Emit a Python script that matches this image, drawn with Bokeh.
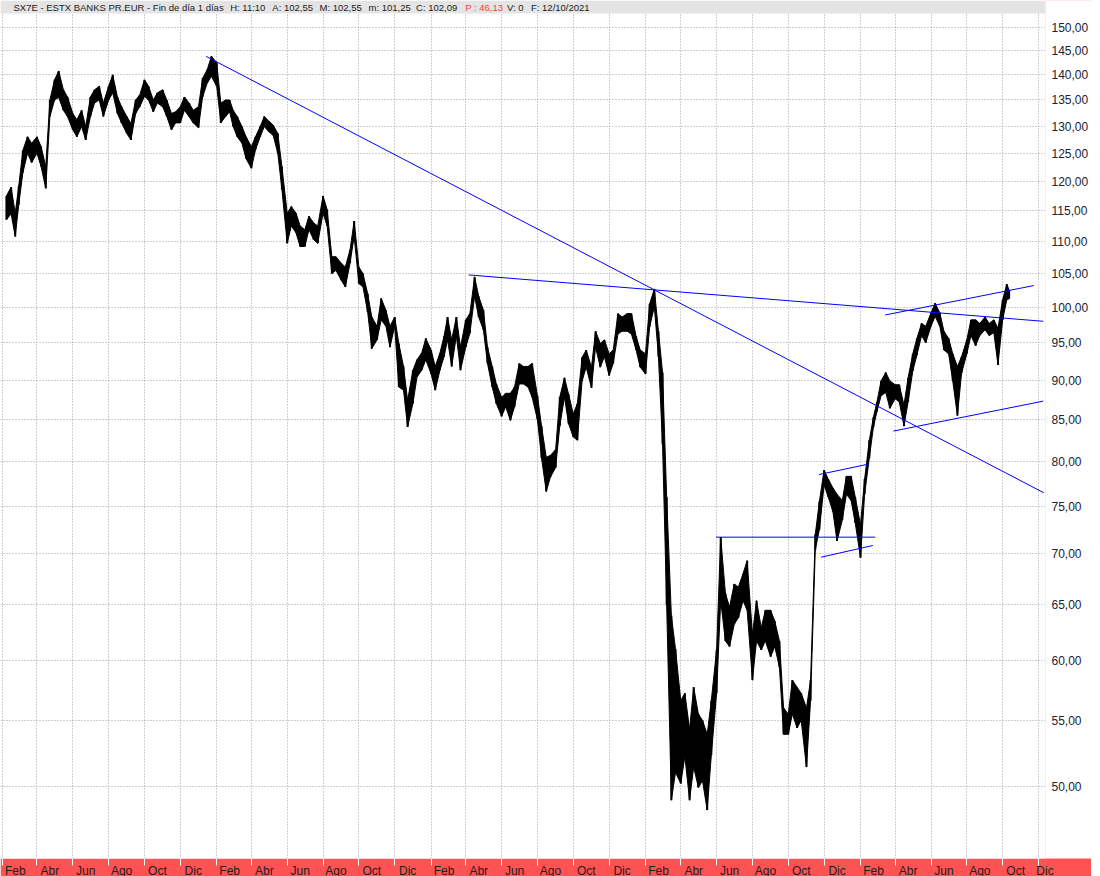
import numpy as np
import pandas as pd
from bokeh.plotting import figure
from bokeh.models import Range1d, FixedTicker, BoxAnnotation, Label, ColumnDataSource
from bokeh.embed import file_html
from bokeh.resources import INLINE

# ---------------- data ----------------
dates_2017 = [
 "2017-02-08","2017-02-16","2017-02-23",
 "2017-03-01","2017-03-08","2017-03-16","2017-03-23",
 "2017-04-01","2017-04-08","2017-04-16","2017-04-23",
 "2017-05-01","2017-05-08","2017-05-16","2017-05-23",
 "2017-06-01","2017-06-08","2017-06-16","2017-06-23",
 "2017-07-01","2017-07-08","2017-07-16","2017-07-23",
 "2017-08-01","2017-08-08","2017-08-16","2017-08-23",
 "2017-09-01","2017-09-08","2017-09-16","2017-09-23",
 "2017-10-01","2017-10-08","2017-10-16","2017-10-23",
 "2017-11-01","2017-11-08","2017-11-16","2017-11-23",
 "2017-12-01","2017-12-08","2017-12-16","2017-12-23"]
high_2017 = [117.5, 119.0, 114.6,
 119.2, 125.5, 128.0, 126.8,
 128.0, 126.2, 122.6, 135.0,
 139.0, 140.8, 137.0, 135.6,
 132.4, 131.2, 133.0, 129.9,
 135.6, 137.0, 137.7, 134.4,
 137.7, 140.0, 135.6, 133.7,
 131.8, 130.5, 135.0, 136.0,
 139.0, 137.7, 135.0, 136.4,
 137.0, 135.0, 132.4, 132.7,
 133.7, 135.6, 134.4, 133.0]
low_2017 = [113.5, 114.5, 110.8,
 116.0, 121.5, 125.0, 123.3,
 125.0, 122.6, 118.8, 131.8,
 135.0, 135.5, 133.0, 131.8,
 129.3, 128.0, 129.9, 127.4,
 131.8, 134.4, 135.0, 131.8,
 135.0, 136.4, 132.4, 130.6,
 128.6, 127.4, 132.4, 133.7,
 135.7, 135.0, 132.7, 134.4,
 133.7, 131.8, 129.3, 130.6,
 130.6, 133.0, 131.8, 130.6]

dates_2018 = [
 "2018-01-01","2018-01-08","2018-01-16","2018-01-23",
 "2018-02-01","2018-02-08","2018-02-16","2018-02-23",
 "2018-03-01","2018-03-08","2018-03-16","2018-03-23",
 "2018-04-01","2018-04-08","2018-04-16","2018-04-23",
 "2018-05-01","2018-05-08","2018-05-16","2018-05-23",
 "2018-06-01","2018-06-08","2018-06-16","2018-06-23",
 "2018-07-01","2018-07-08","2018-07-16","2018-07-23",
 "2018-08-01","2018-08-08","2018-08-16","2018-08-23",
 "2018-09-01","2018-09-08","2018-09-16","2018-09-23",
 "2018-10-01","2018-10-08","2018-10-16","2018-10-23",
 "2018-11-01","2018-11-08","2018-11-16","2018-11-23",
 "2018-12-01","2018-12-08","2018-12-16","2018-12-23"]
high_2018 = [133.7, 139.3, 141.1, 143.8,
 142.5, 134.4, 135.0, 135.0,
 133.0, 131.8, 129.9, 128.0,
 126.2, 128.0, 129.9, 131.8,
 130.9, 130.2, 128.6, 122.6,
 114.6, 115.7, 114.6, 112.5,
 111.9, 114.1, 113.0, 112.5,
 117.5, 115.2, 107.6, 107.6,
 106.6, 106.0, 108.7, 113.3,
 106.0, 105.0, 102.0, 98.6,
 97.3, 101.3, 99.6, 97.3,
 98.6, 94.9, 91.8, 87.4]
low_2018 = [129.7, 135.6, 138.4, 139.7,
 137.7, 130.6, 131.8, 132.7,
 129.9, 128.0, 126.8, 124.0,
 122.3, 125.6, 128.0, 129.9,
 128.9, 128.3, 125.0, 118.6,
 109.7, 112.5, 111.4, 109.2,
 109.2, 111.9, 110.3, 109.7,
 114.6, 112.5, 105.0, 105.5,
 104.0, 103.0, 106.6, 110.8,
 103.5, 103.0, 99.3, 94.2,
 95.4, 98.2, 97.3, 94.4,
 97.3, 89.1, 88.7, 84.1]

dates_2019 = [
 "2019-01-01","2019-01-08","2019-01-16","2019-01-23",
 "2019-02-01","2019-02-08","2019-02-16","2019-02-23",
 "2019-03-01","2019-03-08","2019-03-16","2019-03-23",
 "2019-04-01","2019-04-08","2019-04-16","2019-04-23",
 "2019-05-01","2019-05-08","2019-05-16","2019-05-23",
 "2019-06-01","2019-06-08","2019-06-16","2019-06-23",
 "2019-07-01","2019-07-08","2019-07-16","2019-07-23",
 "2019-08-01","2019-08-08","2019-08-16","2019-08-23",
 "2019-09-01","2019-09-08","2019-09-16","2019-09-23",
 "2019-10-01","2019-10-08","2019-10-16","2019-10-23",
 "2019-11-01","2019-11-08","2019-11-16","2019-11-23",
 "2019-12-01","2019-12-08","2019-12-16","2019-12-23"]
high_2019 = [91.3, 92.7, 93.6, 95.6,
 94.0, 91.8, 93.6, 95.9,
 98.6, 95.4, 98.6, 94.4,
 98.2, 99.1, 104.5, 101.6,
 99.6, 94.4, 91.8, 89.5,
 87.8, 88.3, 88.3, 89.1,
 92.2, 91.8, 91.8, 92.2,
 88.0, 84.2, 80.5, 80.7,
 81.4, 87.8, 90.3, 88.2,
 85.7, 87.0, 93.0, 94.0,
 91.7, 96.6, 94.9, 95.4,
 93.5, 94.0, 99.1, 98.6]
low_2019 = [87.0, 90.4, 91.3, 92.7,
 90.8, 88.7, 91.3, 93.1,
 95.4, 91.8, 95.9, 91.3,
 94.4, 96.3, 101.6, 98.6,
 96.8, 92.2, 89.1, 87.0,
 85.4, 86.6, 84.9, 86.6,
 89.5, 89.5, 89.1, 87.8,
 85.0, 80.4, 76.6, 78.2,
 79.3, 84.2, 87.8, 84.5,
 82.9, 82.5, 89.9, 91.7,
 89.0, 94.4, 91.7, 93.1,
 90.6, 92.2, 96.2, 96.6]

dates_2020 = [
 "2020-01-01","2020-01-08","2020-01-16","2020-01-23",
 "2020-02-01","2020-02-08","2020-02-16","2020-02-23",
 "2020-03-01","2020-03-08","2020-03-16","2020-03-23",
 "2020-04-01","2020-04-08","2020-04-16","2020-04-23",
 "2020-05-01","2020-05-08","2020-05-16","2020-05-23",
 "2020-06-01","2020-06-08","2020-06-16","2020-06-23",
 "2020-07-01","2020-07-08","2020-07-16","2020-07-23",
 "2020-08-01","2020-08-08","2020-08-16","2020-08-23",
 "2020-09-01","2020-09-08","2020-09-16","2020-09-23",
 "2020-10-01","2020-10-08","2020-10-16","2020-10-23",
 "2020-11-01","2020-11-08","2020-11-16","2020-11-23",
 "2020-12-01","2020-12-08","2020-12-16","2020-12-23"]
high_2020 = [99.1, 99.1, 95.9, 94.0,
 93.5, 100.5, 102.7, 96.6,
 91.0, 76.0, 64.0, 61.0,
 56.6, 57.2, 54.3, 57.7,
 55.5, 55.0, 53.9, 56.6,
 60.9, 71.7, 66.1, 64.8,
 67.0, 66.7, 68.0, 69.3,
 62.3, 65.4, 62.9, 64.5,
 64.5, 63.5, 61.7, 56.0,
 55.5, 58.3, 57.7, 57.2,
 56.0, 58.3, 72.0, 75.5,
 79.0, 78.0, 77.0, 76.3]
low_2020 = [96.6, 96.2, 94.0, 91.7,
 90.8, 97.2, 100.1, 93.1,
 82.0, 65.0, 49.0, 51.0,
 50.2, 52.2, 49.0, 51.4,
 49.9, 50.4, 48.3, 52.3,
 57.2, 65.4, 61.7, 61.2,
 63.2, 63.8, 65.4, 64.5,
 58.3, 61.7, 60.9, 61.7,
 60.3, 61.2, 59.4, 53.9,
 53.9, 55.5, 54.4, 55.0,
 51.4, 56.6, 70.4, 72.5,
 77.3, 76.0, 74.4, 71.3]

dates_2021 = [
 "2021-01-01","2021-01-08","2021-01-16","2021-01-23",
 "2021-02-01","2021-02-08","2021-02-16","2021-02-23",
 "2021-03-01","2021-03-08","2021-03-16","2021-03-23",
 "2021-04-01","2021-04-08","2021-04-16","2021-04-23",
 "2021-05-01","2021-05-08","2021-05-16","2021-05-23",
 "2021-06-01","2021-06-08","2021-06-16","2021-06-23",
 "2021-07-01","2021-07-08","2021-07-16","2021-07-23",
 "2021-08-01","2021-08-08","2021-08-16","2021-08-23",
 "2021-09-01","2021-09-08","2021-09-16","2021-09-23",
 "2021-10-01","2021-10-08","2021-10-12"]
high_2021 = [75.6, 78.3, 78.3, 76.0,
 73.0, 78.0, 82.5, 85.3,
 87.2, 89.9, 91.0, 89.9,
 89.4, 89.4, 86.8, 90.3,
 93.5, 95.6, 97.7, 97.3,
 99.2, 100.6, 99.2, 96.6,
 95.6, 93.5, 91.8, 93.1,
 95.4, 98.2, 98.2, 97.7,
 98.6, 97.7, 98.2, 97.0,
 101.1, 103.4, 102.55]
low_2021 = [73.5, 76.3, 75.6, 73.2,
 69.6, 76.3, 80.4, 84.1,
 86.0, 88.0, 88.4, 86.4,
 87.6, 87.2, 84.2, 87.2,
 91.2, 93.3, 96.0, 95.0,
 97.3, 98.7, 97.3, 94.0,
 93.5, 89.9, 85.5, 90.9,
 93.5, 96.0, 94.6, 96.0,
 96.8, 96.0, 96.4, 92.0,
 98.2, 101.1, 101.25]

# trend lines drawn on the chart: (start date, start value) -> (end date, end value)
trend_start_dates = ["2018-01-14", "2019-04-06", "2021-03-15", "2021-03-29", "2020-05-31", "2020-11-22", "2020-11-26"]
trend_start_values = [143.8, 104.8, 98.9, 83.6, 71.7, 78.5, 69.65]
trend_end_dates = ["2021-12-10", "2021-12-09", "2021-11-23", "2021-12-09", "2021-02-26", "2021-02-15", "2021-02-22"]
trend_end_values = [76.46, 98.0, 103.2, 87.3, 71.7, 79.7, 70.84]

# axes
month_ticks = [
 "2017-02-01","2017-04-01","2017-06-01","2017-08-01","2017-10-01","2017-12-01",
 "2018-02-01","2018-04-01","2018-06-01","2018-08-01","2018-10-01","2018-12-01",
 "2019-02-01","2019-04-01","2019-06-01","2019-08-01","2019-10-01","2019-12-01",
 "2020-02-01","2020-04-01","2020-06-01","2020-08-01","2020-10-01","2020-12-01",
 "2021-02-01","2021-04-01","2021-06-01","2021-08-01","2021-10-01","2021-12-01"]
month_labels = ["Feb","Abr","Jun","Ago","Oct","Dic",
                "Feb","Abr","Jun","Ago","Oct","Dic",
                "Feb","Abr","Jun","Ago","Oct","Dic",
                "Feb","Abr","Jun","Ago","Oct","Dic",
                "Feb","Abr","Jun","Ago","Oct","Dic"]
price_ticks = [50, 55, 60, 65, 70, 75, 80, 85, 90, 95, 100,
               105, 110, 115, 120, 125, 130, 135, 140, 145, 150]

header_texts = ["SX7E - ESTX BANKS PR.EUR - Fin de día 1 días", "H: 11:10", "A: 102,55",
                "M: 102,55", "m: 101,25", "C: 102,09", "P : 46,13", "V: 0", "F: 12/10/2021"]

# ---------------- layout ----------------
DAY = 86400000.0

def to_ms(d):
    return pd.Timestamp(d).value / 1e6

dates = dates_2017 + dates_2018 + dates_2019 + dates_2020 + dates_2021
high = high_2017 + high_2018 + high_2019 + high_2020 + high_2021
low = low_2017 + low_2018 + low_2019 + low_2020 + low_2021
xs = [to_ms(d) for d in dates]

FW, FH, BB = 1045, 858, 18

# horizontal scale: Feb 2017 tick at 1.8 px, Dec 2021 tick at 1038 px
ppd = (1038 - 1.8) / ((to_ms("2021-12-01") - to_ms("2017-02-01")) / DAY)
x0 = to_ms("2017-02-01") - 1.8 / ppd * DAY
x1 = x0 + FW / ppd * DAY
# vertical log scale: 150 at 26.7 px, 50 at 785.7 px
ppl = (785.7 - 26.7) / np.log(3.0)
y1 = 50 * np.exp(785.7 / ppl)
y0 = 50 * np.exp((785.7 - FH) / ppl)

def px_x(px):
    return x0 + px / ppd * DAY

def px_y(px):
    return float(np.exp(np.log(y1) - px / ppl))

p = figure(frame_width=FW, frame_height=FH, x_range=Range1d(x0, x1), y_range=Range1d(y0, y1),
           y_axis_type="log", y_axis_location="right",
           output_backend="svg", toolbar_location=None,
           min_border_left=0, min_border_top=0, min_border_right=0, min_border_bottom=BB)
p.outline_line_color = None
p.background_fill_color = "white"
p.border_fill_color = "#ff5252"

tick_ms = [to_ms(d) for d in month_ticks]
# month names sit just to the right of their tick (kept inside the visible range)
label_ms = [min(t + 13 / ppd * DAY, x1 - 0.5 / ppd * DAY) for t in tick_ms]

p.xgrid.ticker = FixedTicker(ticks=tick_ms)
p.ygrid.ticker = FixedTicker(ticks=price_ticks)
for g in (p.xgrid[0], p.ygrid[0]):
    g.grid_line_color = "#a0a0a0"
    g.grid_line_dash = "1 2"
    g.grid_line_width = 1

xa = p.xaxis[0]
xa.ticker = FixedTicker(ticks=label_ms, minor_ticks=tick_ms)
xa.major_label_overrides = {t: lab for t, lab in zip(label_ms, month_labels)}
xa.axis_line_color = None
xa.major_tick_line_color = None
xa.major_tick_out = 0
xa.major_tick_in = 0
xa.minor_tick_line_color = "white"
xa.minor_tick_out = 7
xa.minor_tick_in = 0
xa.major_label_standoff = -2
xa.major_label_text_font = "Liberation Sans"
xa.major_label_text_font_size = "12px"
xa.major_label_text_color = "#1e1e1e"

ya = p.yaxis[0]
ya.ticker = FixedTicker(ticks=price_ticks, minor_ticks=[])
ya.major_label_overrides = {t: f"{t:.2f}".replace(".", ",") for t in price_ticks}
ya.axis_line_color = None
ya.major_tick_line_color = None
ya.minor_tick_line_color = None
ya.major_tick_out = 0
ya.major_tick_in = 0
ya.major_label_standoff = 6
ya.major_label_text_font = "Liberation Sans"
ya.major_label_text_font_size = "12px"
ya.major_label_text_color = "#222233"
try:
    ya.background_fill_color = "white"
except AttributeError:
    p.border_fill_color = "white"

src = ColumnDataSource(dict(x=xs, hi=high, lo=low))
p.varea(x="x", y1="lo", y2="hi", source=src, fill_color="black")
p.segment(x0="x", y0="lo", x1="x", y1="hi", source=src, line_color="black", line_width=2)
p.line(x="x", y="hi", source=src, line_color="black", line_width=1)
p.line(x="x", y="lo", source=src, line_color="black", line_width=1)

p.multi_line(xs=[[to_ms(a), to_ms(b)] for a, b in zip(trend_start_dates, trend_end_dates)],
             ys=[[a, b] for a, b in zip(trend_start_values, trend_end_values)],
             line_color="#0000ff", line_width=1)

# header bar
p.add_layout(BoxAnnotation(bottom=px_y(13), fill_color="#e4e4e4", fill_alpha=1,
                           line_color=None, level="overlay"))
header_px = [13, 229.7, 271.8, 319, 368, 415.6, 464.7, 506.5, 530.5]
for t, hx in zip(header_texts, header_px):
    color = "#ff3c3c" if t.startswith("P") else "#1a1a1a"
    p.add_layout(Label(x=px_x(hx), y=px_y(6.5), text=t, text_font="Liberation Sans",
                       text_font_size="9.5px", text_color=color, text_baseline="middle",
                       text_align="left", level="overlay"))

open("out.html", "w").write(file_html(p, INLINE))
